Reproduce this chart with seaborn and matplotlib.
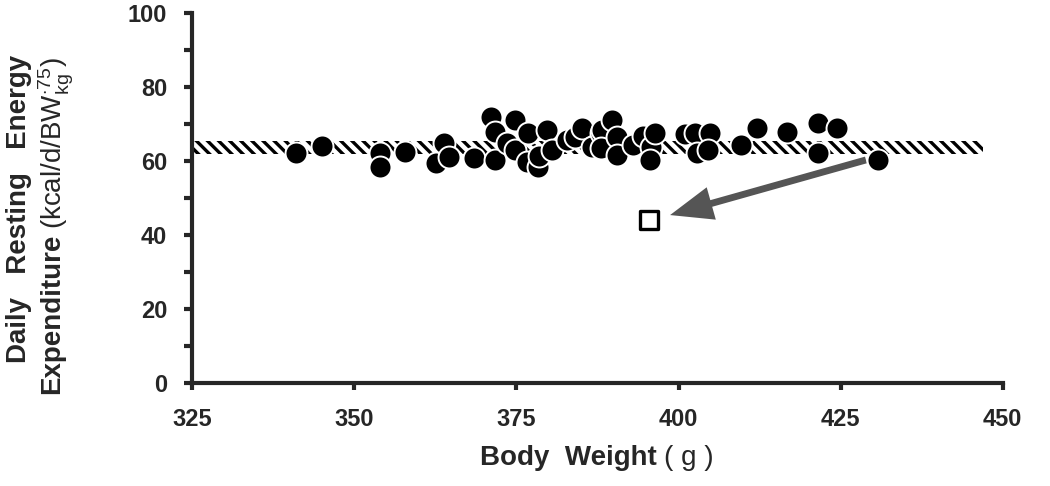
import numpy as np
import pandas as pd
import matplotlib
matplotlib.use("Agg")
import matplotlib.pyplot as plt
import seaborn as sns

# body weight (g) and daily resting energy expenditure
body_weight = [341.0, 345.0, 354.0, 354.0, 357.8, 362.6, 363.8, 364.6, 368.4,
               371.1, 371.7, 371.7, 373.5, 374.8, 374.8, 376.8, 376.6, 378.3,
               378.5, 379.7, 380.5, 382.8, 384.0, 385.1, 386.6, 388.0, 388.2,
               388.0, 389.7, 390.5, 390.5, 393.0, 394.5, 395.7, 395.6, 396.3,
               401.0, 402.5, 404.8, 402.8, 404.5, 409.7, 412.1, 416.7, 421.5,
               424.5, 421.5, 430.7]
ree = [62.2, 64.1, 62.2, 58.4, 62.4, 59.5, 64.9, 61.1, 60.8,
       71.9, 67.8, 60.3, 65.0, 71.1, 63.0, 67.6, 59.7, 58.4,
       61.5, 68.4, 63.0, 65.7, 66.5, 68.9, 63.8, 67.6, 68.4,
       63.5, 71.1, 66.5, 61.6, 64.3, 66.8, 63.9, 60.4, 67.6,
       67.2, 67.6, 67.6, 62.2, 63.0, 64.3, 68.9, 67.8, 70.3,
       68.9, 62.2, 60.3]

# the outlier (open square) and the arrow pointing to it
outlier_weight = [395.4]
outlier_ree = [44.1]
arrow_from = (428.9, 60.3)
arrow_to = (398.7, 45.4)

# hatched mean band
band_x = [325.3, 447.0]
band_low = 61.9
band_high = 65.4

df = pd.DataFrame({"weight": body_weight, "ree": ree})
out_df = pd.DataFrame({"weight": outlier_weight, "ree": outlier_ree})

sns.set_style("ticks")
plt.rcParams["font.family"] = ["Liberation Sans", "DejaVu Sans"]
plt.rcParams["mathtext.fontset"] = "custom"
plt.rcParams["mathtext.rm"] = "Liberation Sans"
plt.rcParams["mathtext.it"] = "Liberation Sans"
plt.rcParams["hatch.linewidth"] = 2.4
plt.rcParams["hatch.color"] = "black"

fig = plt.figure(figsize=(10.5, 4.86), dpi=100)
ax = fig.add_axes([0.183, 0.212, 0.772, 0.761])

ax.fill_between(band_x, band_low, band_high, facecolor="white",
                edgecolor="black", hatch="\\\\\\", linewidth=0, zorder=1)

sns.scatterplot(data=df, x="weight", y="ree", ax=ax, color="black",
                edgecolor="white", linewidth=1.4, s=250, zorder=3)
sns.scatterplot(data=out_df, x="weight", y="ree", ax=ax, marker="s",
                facecolor="white", edgecolor="black", linewidth=2.4,
                s=160, zorder=4)

ax.annotate("", xy=arrow_to, xytext=arrow_from,
            arrowprops=dict(arrowstyle="simple,head_length=2.8,head_width=2.2,tail_width=0.45",
                            mutation_scale=11, color="#555555", lw=0,
                            shrinkA=0, shrinkB=0), zorder=2)

ax.set_xlim(325, 450)
ax.set_ylim(0, 100)
ax.set_xticks(np.arange(325, 451, 25))
ax.set_yticks(np.arange(0, 101, 20))
ax.set_yticks(np.arange(10, 100, 20), minor=True)

sns.despine(ax=ax)
for side in ["left", "bottom"]:
    ax.spines[side].set_linewidth(3)
ax.tick_params(axis="y", which="both", length=6, width=3, pad=12,
               labelsize=17)
ax.tick_params(axis="x", length=5, width=3, pad=13, labelsize=17)
for lab in ax.get_xticklabels() + ax.get_yticklabels():
    lab.set_fontweight("bold")

ax.set_xlabel("")
ax.set_ylabel("")
fig.text(0.625, 0.03, "Body  Weight", fontsize=20, fontweight="bold",
         ha="right", va="bottom")
fig.text(0.632, 0.03, "( g )", fontsize=20, ha="left", va="bottom")

# two-line y label with mixed weights
fig.text(0.018, 0.57, "Daily   Resting   Energy", fontsize=20,
         fontweight="bold", rotation=90, ha="center", va="center")
t1 = fig.text(0.05, 0.19, "Expenditure", fontsize=20, fontweight="bold",
              rotation=90, ha="center", va="bottom")
fig.canvas.draw()
bb = t1.get_window_extent(fig.canvas.get_renderer())
top = bb.y1 / fig.bbox.height
fig.text(0.054, top + 0.008,
         r"(kcal/d/BW$_{\mathrm{kg}}^{\cdot\mathrm{75}}$)", fontsize=20,
         rotation=90, ha="center", va="bottom")

fig.savefig("out.png", dpi=100)
